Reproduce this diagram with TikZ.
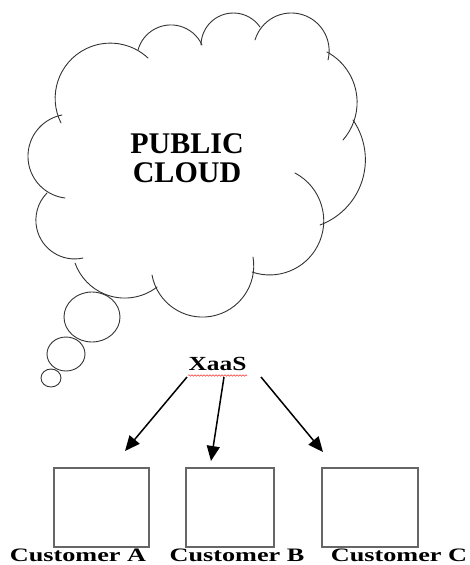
\documentclass[tikz,border=0pt]{standalone}
\usepackage{fontspec}
\setmainfont{Liberation Serif}
\usepackage{graphicx}
\usetikzlibrary{arrows.meta,decorations.pathmorphing}
\newcommand\lobearc[6]{%
 \pgfmathsetmacro\qqa{((#3)-(#1))/10}\pgfmathsetmacro\qqb{((#4)-(#2))/10}%
 \pgfmathsetmacro\qqc{((#5)-(#1))/10}\pgfmathsetmacro\qqe{((#6)-(#2))/10}%
 \pgfmathsetmacro\qqd{2*((\qqa)*(\qqe)-(\qqb)*(\qqc))}%
 \pgfmathsetmacro\qqux{((\qqe)*((\qqa)*(\qqa)+(\qqb)*(\qqb))-(\qqb)*((\qqc)*(\qqc)+(\qqe)*(\qqe)))/(\qqd)}%
 \pgfmathsetmacro\qquy{((\qqa)*((\qqc)*(\qqc)+(\qqe)*(\qqe))-(\qqc)*((\qqa)*(\qqa)+(\qqb)*(\qqb)))/(\qqd)}%
 \pgfmathsetmacro\qqr{10*sqrt((\qqux)*(\qqux)+(\qquy)*(\qquy))}%
 \pgfmathsetmacro\qqsa{atan2(0-(\qquy),0-(\qqux))}%
 \pgfmathsetmacro\qqma{atan2((\qqb)-(\qquy),(\qqa)-(\qqux))}%
 \pgfmathsetmacro\qqea{atan2((\qqe)-(\qquy),(\qqc)-(\qqux))}%
 \pgfmathsetmacro\qqE{Mod((\qqea)-(\qqsa),360)}%
 \pgfmathsetmacro\qqM{Mod((\qqma)-(\qqsa),360)}%
 \pgfmathsetmacro\qqda{(\qqM)<(\qqE) ? (\qqE) : (\qqE)-360}%
 \draw[cloudline] (#1,#2) arc[start angle=\qqsa, delta angle=\qqda, radius=\qqr];%
}
\begin{document}
\begin{tikzpicture}[x=1pt,y=-1pt,
  cloudline/.style={draw=black!80,line width=0.9pt,line cap=round},
  custbox/.style={draw=black!60,line width=1.3pt,inner sep=0pt,outer sep=0pt,minimum height=79pt},
  arr/.style={line width=1.5pt,-{Triangle[length=15pt,width=13pt]}},
  lbl/.style={font=\bfseries\fontsize{19}{19}\selectfont,inner sep=0pt,anchor=base},
]
\useasboundingbox (0,0) rectangle (469,565);
% cloud lobes
\lobearc{61}{123}{90}{47}{148}{58}
\lobearc{138}{50}{173}{25}{202}{45}
\lobearc{201}{45}{233}{13}{260}{27}
\lobearc{255}{40}{290}{13}{328}{60}
\lobearc{327}{52}{355}{87}{343}{140}
\lobearc{353}{120}{365}{167}{320}{225}
\lobearc{295}{173}{317}{247}{252}{272}
\lobearc{253}{257}{200}{317}{152}{275}
\lobearc{157}{287}{127}{298}{75}{263}
\lobearc{83}{258}{36}{217}{47}{193}
\lobearc{65}{198}{29}{147}{62}{115}
% thought bubbles
\draw[cloudline] (92,317) ellipse [x radius=28pt,y radius=25pt];
\draw[cloudline] (66,354) ellipse [x radius=19pt,y radius=17pt];
\draw[cloudline] (51,378) ellipse [x radius=10pt,y radius=9pt];
% cloud text
\node[font=\bfseries\fontsize{30}{29}\selectfont,align=center,inner sep=0pt] (pc) at (187,158) {PUBLIC\\CLOUD};
% XaaS
\node[font=\bfseries\fontsize{20}{20}\selectfont,inner sep=0pt] (xaas) at (217.5,364) {\scalebox{1.27}[1]{XaaS}};
\draw[red!80,line width=0.5pt,decorate,decoration={snake,amplitude=0.8pt,segment length=3pt}] (188,375.5) -- (247,375.5);
% boxes
\node[custbox,minimum width=95pt] (ba) at (101.5,507.5) {};
\node[custbox,minimum width=88pt] (bb) at (230,507.5) {};
\node[custbox,minimum width=96pt] (bc) at (370,507.5) {};
% arrows
\coordinate (sa) at (187,377);
\coordinate (sb) at (224,377);
\coordinate (sc) at (261,377);
\coordinate (ea) at (125,451);
\coordinate (eb) at (211,461);
\coordinate (ec) at (323,452);
\draw[arr] (sa) -- (ea);
\draw[arr] (sb) -- (eb);
\draw[arr] (sc) -- (ec);
% labels
\node[lbl] (la) at (78,561.5) {\scalebox{1.38}[1]{Customer A}};
\node[lbl] (lb) at (237,561.5) {\scalebox{1.38}[1]{Customer B}};
\node[lbl] (lc) at (399,561.5) {\scalebox{1.38}[1]{Customer C}};
\end{tikzpicture}
\end{document}
